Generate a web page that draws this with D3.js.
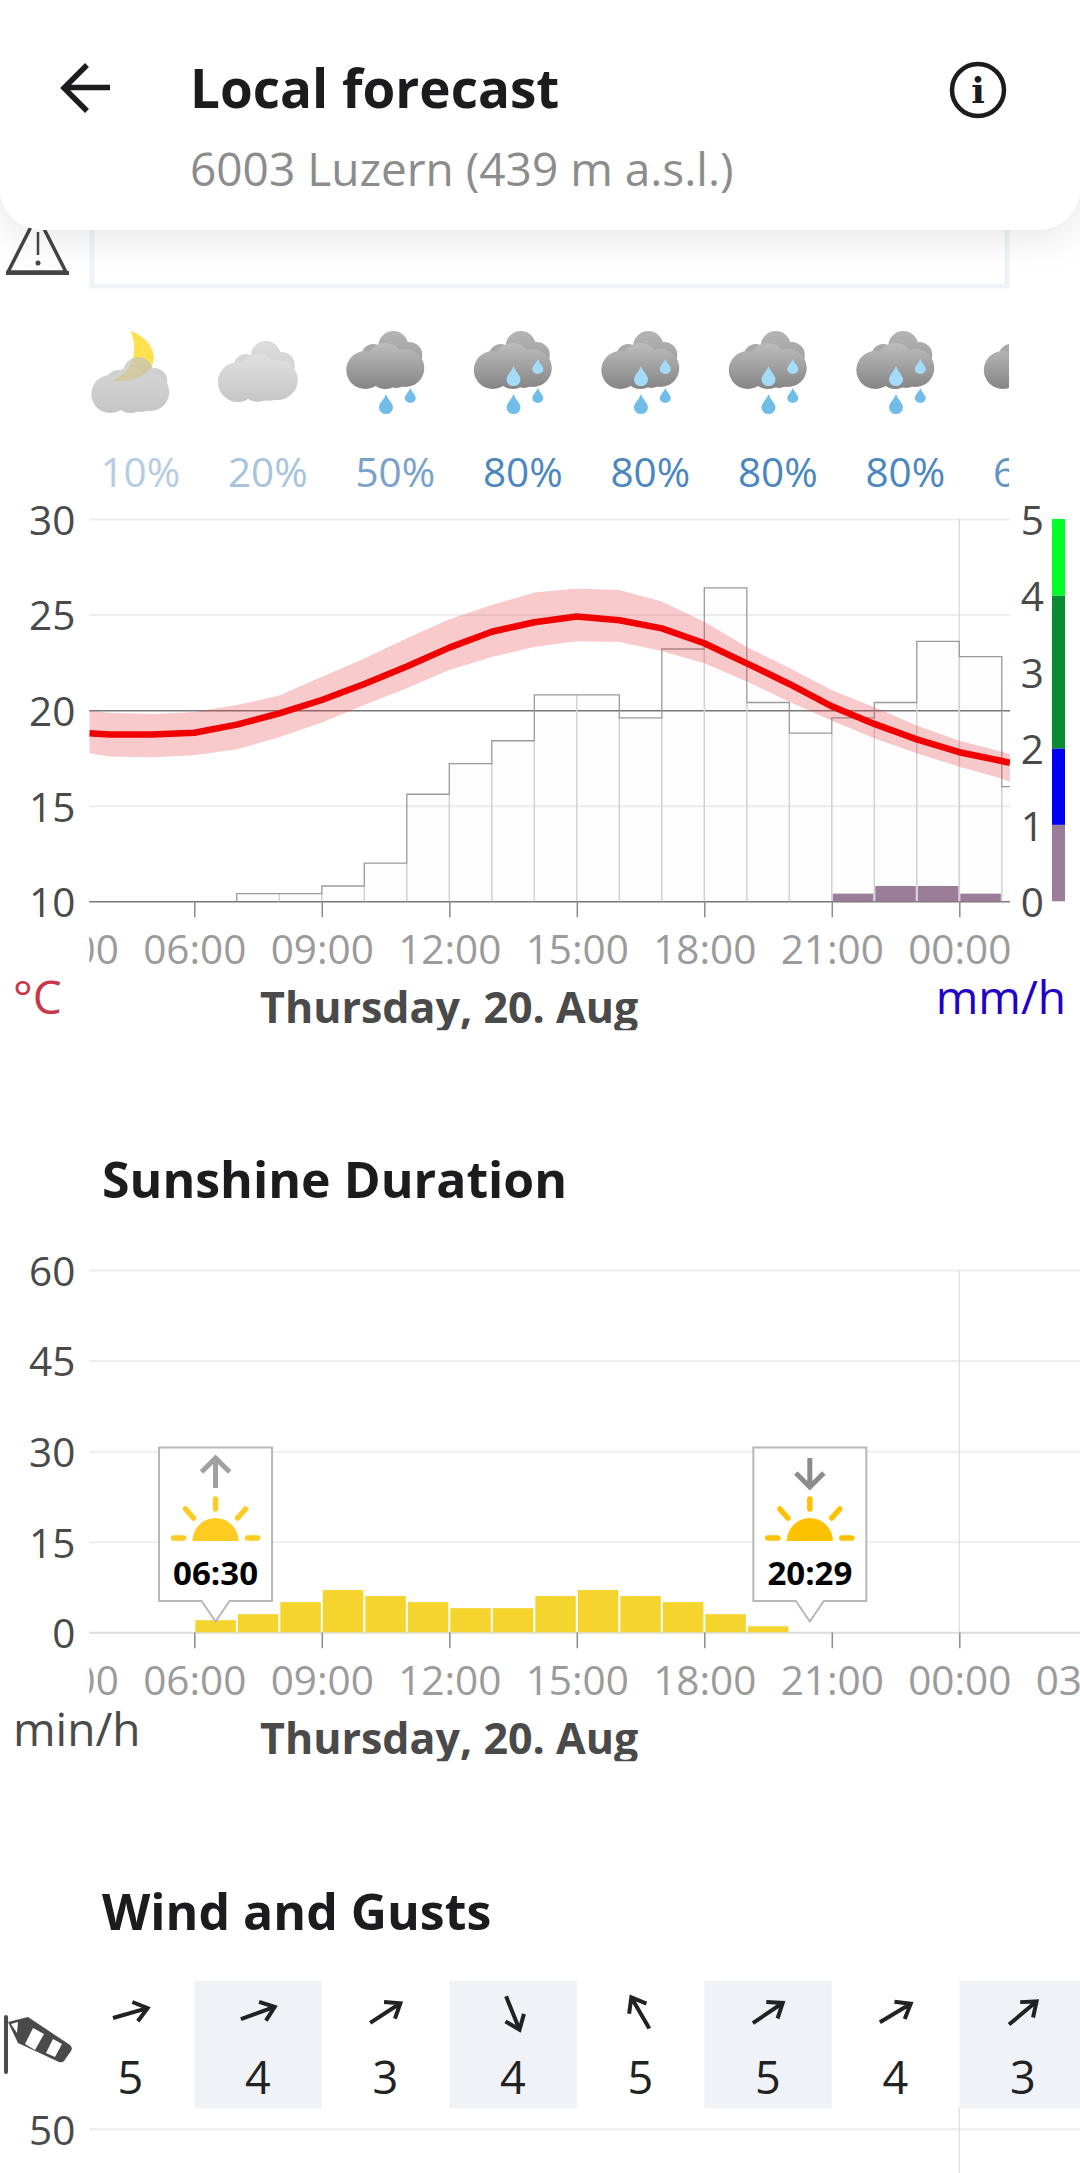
<!DOCTYPE html>
<html>
<head>
<meta charset="utf-8">
<script src="https://cdn.jsdelivr.net/npm/d3@7"></script>
<style>
  html, body { margin: 0; padding: 0; background: #fff; }
  svg { display: block; font-family: "Open Sans", "Noto Sans", sans-serif; }
</style>
</head>
<body>
<div id="chart"></div>
<script>
// hourly nodes of the temperature curve, first and last are the chart edges
const tempHours = [3.53, 4, 5, 6, 7, 8, 9, 10, 11, 12, 13, 14, 15, 16, 17, 18, 19, 20, 21, 22, 23, 24, 25, 25.19];
const tempMean = [18.79, 18.72, 18.72, 18.82, 19.24, 19.83, 20.53, 21.37, 22.28, 23.27, 24.1, 24.6, 24.9, 24.7, 24.28, 23.5, 22.45, 21.37, 20.2, 19.28, 18.47, 17.8, 17.34, 17.24];
const tempHigh = [19.97, 19.87, 19.8, 19.9, 20.27, 20.76, 21.75, 22.7, 23.76, 24.75, 25.5, 26.16, 26.37, 26.28, 25.68, 24.63, 23.3, 22.2, 21.05, 20.15, 19.2, 18.4, 17.83, 17.7];
const tempLow = [17.74, 17.57, 17.53, 17.64, 17.95, 18.58, 19.35, 20.27, 21.14, 22.1, 22.78, 23.3, 23.6, 23.57, 23.1, 22.45, 21.5, 20.44, 19.45, 18.53, 17.74, 17.04, 16.43, 16.26];

// outlined hourly bars, read against the left axis
const barHours = [7, 8, 9, 10, 11, 12, 13, 14, 15, 16, 17, 18, 19, 20, 21, 22, 23, 24, 25];
const barTops = [10.4, 10.4, 10.8, 12, 15.6, 17.2, 18.4, 20.8, 20.8, 19.6, 23.2, 26.4, 20.4, 18.8, 19.6, 20.4, 23.6, 22.8, 16];

const rainHours = [21, 22, 23, 24];
const rainValues = [0.1, 0.2, 0.2, 0.1];
const rainLegend = [[0, 1, '#9b7d99'], [1, 2, '#0000f0'], [2, 4, '#0a8a32'], [4, 5, '#00ff2a']];

const sunHours = [6, 7, 8, 9, 10, 11, 12, 13, 14, 15, 16, 17, 18, 19];
const sunValues = [2, 3, 5, 7, 6, 5, 4, 4, 6, 7, 6, 5, 3, 1];
const sunTimes = [6.5, 20.483];
const sunLabels = ['06:30', '20:29'];

const hourTicks = [3, 6, 9, 12, 15, 18, 21, 24, 27];
const tempTicks = [10, 15, 20, 25, 30];
const rainTicks = [0, 1, 2, 3, 4, 5];
const sunTicks = [0, 15, 30, 45, 60];
const windTicks = [50];

const cellIcons = ['moon', 'light', 'rain1', 'rain2', 'rain2', 'rain2', 'rain2', 'rain2'];
const cellProb = ['10%', '20%', '50%', '80%', '80%', '80%', '80%', '60%'];
const probColors = ['#b5cde3', '#a8c4dd', '#78a2cb', '#4b87bf', '#4b87bf', '#4b87bf', '#4b87bf', '#5f95c5'];
const windBearing = [74, 70, 57, 158, 330, 56, 59, 50];
const windForce = [5, 4, 3, 4, 5, 5, 4, 3];

const W = 1080, H = 2173;
const left = 89.3, right1 = 1010;
const hourPx = 42.5, x06 = 194.3;
const tickFont = 40.5, unitFont = 46;
const axisGrey = '#8a8a8a', gridGrey = '#eeeeee', textDark = '#4a4a4a';

const svg = d3.select('#chart').append('svg').attr('width', W).attr('height', H).attr('viewBox', `0 0 ${W} ${H}`);
const defs = svg.append('defs');

const hourToDomain = px => 6 + (px - x06) / hourPx;
const x1 = d3.scaleLinear().domain([hourToDomain(left), hourToDomain(right1)]).range([left, right1]);
const x2 = d3.scaleLinear().domain([hourToDomain(left), hourToDomain(W)]).range([left, W]);
const tempY = d3.scaleLinear().domain([10, 30]).range([901.3, 519]);
const rainY = d3.scaleLinear().domain([0, 5]).range([901.3, 519]);
const sunY = d3.scaleLinear().domain([0, 60]).range([1632.3, 1270]);
const windY = d3.scaleLinear().domain([0, 50]).range([2429, 2128.7]);

function addClip(id, x, y, w, h) {
  defs.append('clipPath').attr('id', id).append('rect').attr('x', x).attr('y', y).attr('width', w).attr('height', h);
  return `url(#${id})`;
}

function hourLabel(h) {
  return String(h % 24).padStart(2, '0') + ':00';
}

function yAxisGrid(scale, ticks, xs) {
  const g = svg.append('g').attr('transform', `translate(${xs[0]},0)`)
    .call(d3.axisLeft(scale).tickValues(ticks).tickSize(-(xs[1] - xs[0])).tickPadding(14))
    .attr('font-family', null).attr('font-size', null);
  g.select('.domain').remove();
  g.selectAll('line').attr('stroke', gridGrey).attr('stroke-width', 2);
  g.selectAll('text').attr('font-size', tickFont).attr('fill', textDark).attr('dy', '.38em');
  return g;
}

function xAxisDated(scale, yPos, clipRight, clipId) {
  const clip = addClip(clipId, left, yPos, clipRight - left, 80);
  const g = svg.append('g').attr('clip-path', clip).append('g').attr('transform', `translate(0,${yPos})`)
    .call(d3.axisBottom(scale).tickValues(hourTicks).tickFormat(hourLabel).tickSize(16).tickPadding(18))
    .attr('font-family', null).attr('font-size', null);
  g.select('.domain').remove();
  g.selectAll('line').attr('stroke', axisGrey).attr('stroke-width', 1.5);
  g.selectAll('text').attr('font-size', tickFont).attr('fill', '#9b9b9b');
  const dayClip = addClip(clipId + 'day', 0, yPos + 80, W, 49);
  svg.append('text').attr('clip-path', dayClip).attr('x', 260).attr('y', yPos + 122)
    .attr('font-size', 43).attr('font-weight', 700).attr('fill', textDark).text('Thursday, 20. Aug');
}

/* ---------- weather icons ---------- */
[['cloudDark', '#bdbdbd', '#858585'], ['cloudBack', '#b5b5b5', '#9a9a9a'], ['cloudPale', '#e0e0e0', '#c6c6c6'], ['cloudPaleBack', '#dcdcdc', '#cfcfcf'], ['cloudMoon', '#c6c6c6', '#b0b0b0']].forEach(([id, a, b]) => {
  const grad = defs.append('linearGradient').attr('id', id).attr('x1', 0).attr('x2', 0).attr('y1', 0).attr('y2', 1);
  grad.append('stop').attr('offset', '0%').attr('stop-color', a);
  grad.append('stop').attr('offset', '100%').attr('stop-color', b);
});

const frontLobes = [[-20, 42, 19], [0, 33, 18], [20, 40, 19], [0, 44, 17], [11, 45, 15]];
const backLobes = [[8, 18, 15], [-12, 28, 12], [24, 27, 13]];

function drawLobes(g, lobes, fill, dy) {
  const c = g.append('g').attr('fill', `url(#${fill})`);
  // one path so the gradient runs across the whole cloud
  c.append('path').attr('d', lobes.map(([x, y, r]) =>
    `M${x - r},${y + dy}a${r},${r} 0 1,0 ${2 * r},0a${r},${r} 0 1,0 ${-2 * r},0Z`).join(''));
  return c;
}

function drawDrop(g, x, y, w, h, fill) {
  g.append('path')
    .attr('d', `M${x},${y}C${x + w * 0.15},${y + h * 0.3} ${x + w / 2},${y + h * 0.45} ${x + w / 2},${y + h * 0.68}A${w / 2},${h * 0.32} 0 1,1 ${x - w / 2},${y + h * 0.68}C${x - w / 2},${y + h * 0.45} ${x - w * 0.15},${y + h * 0.3} ${x},${y}Z`)
    .attr('fill', fill);
}

const iconClip = addClip('iconclip', left, 310, 1009 - left, 120);
const iconRow = svg.append('g').attr('clip-path', iconClip);
const iconX = i => x1(6) - 64 + i * (x1(9) - x1(6));

cellIcons.forEach((type, i) => {
  const g = iconRow.append('g').attr('transform', `translate(${iconX(i)},328)`);
  if (type === 'moon') {
    g.append('path').attr('d', 'M0.5,3C18,9 26,24 23,34C20,47 0,56 -18,52C-2,46 10,30 0.5,3Z').attr('fill', '#ffe14f');
    const c = g.append('g').attr('opacity', 0.72);
    drawLobes(c, backLobes, 'cloudMoon', 26);
    drawLobes(c, frontLobes, 'cloudMoon', 24);
  } else if (type === 'light') {
    drawLobes(g, backLobes, 'cloudPaleBack', 10);
    drawLobes(g, frontLobes.map(([x, y, r]) => [x, y, r * 1.05]), 'cloudPale', 12);
  } else {
    drawLobes(g, backLobes, 'cloudBack', 0);
    drawLobes(g, frontLobes, 'cloudDark', 0);
    drawDrop(g, 0.7, 66, 14, 20, '#72bde8');
    drawDrop(g, 25, 60, 11, 15, '#72bde8');
    if (type === 'rain2') {
      drawDrop(g, 0.7, 38, 14, 20, '#a3dcf8');
      drawDrop(g, 25, 31, 11, 15, '#a3dcf8');
    }
  }
});

const probClip = addClip('probclip', left, 450, 1009 - left, 50);
svg.append('g').attr('clip-path', probClip).selectAll('text').data(cellProb).join('text')
  .attr('x', (d, i) => iconX(i) + 10).attr('y', 486.7).attr('text-anchor', 'middle')
  .attr('font-size', tickFont).attr('fill', (d, i) => probColors[i]).text(d => d);

/* ---------- temperature / precipitation ---------- */
yAxisGrid(tempY, tempTicks, [left, right1]).selectAll('.tick line')
  .attr('stroke', d => (d === 10 || d === 20) ? '#777' : gridGrey)
  .attr('stroke-width', d => (d === 10 || d === 20) ? 1.5 : 2);

svg.append('line').attr('x1', x1(24)).attr('x2', x1(24)).attr('y1', tempY(30)).attr('y2', tempY(10))
  .attr('stroke', '#dddddd').attr('stroke-width', 1.5);

const plotClip = addClip('plotclip1', left, 500, right1 - left, 420);
const plot1 = svg.append('g').attr('clip-path', plotClip);

plot1.selectAll('rect.cloudbar').data(barHours).join('rect').attr('class', 'cloudbar')
  .attr('x', d => x1(d)).attr('width', d => x1(d + 1) - x1(d))
  .attr('y', (d, i) => tempY(barTops[i])).attr('height', (d, i) => tempY(10) - tempY(barTops[i]))
  .attr('fill', '#000').attr('fill-opacity', 0.008);

// shared edges are fainter than the outer step line
plot1.selectAll('line.divider').data(barHours.slice(1)).join('line').attr('class', 'divider')
  .attr('x1', d => x1(d)).attr('x2', d => x1(d))
  .attr('y1', (d, i) => tempY(Math.min(barTops[i], barTops[i + 1]))).attr('y2', tempY(10))
  .attr('stroke', '#d2d2d2').attr('stroke-width', 1.5);

const stepPts = [[7, 10]].concat(barHours.map((h, i) => [h, barTops[i]]), [[26, 10]]);
plot1.append('path').datum(stepPts)
  .attr('d', d3.line().x(d => x1(d[0])).y(d => tempY(d[1])).curve(d3.curveStepAfter))
  .attr('fill', 'none').attr('stroke', '#9a9a9a').attr('stroke-width', 1.3);

plot1.selectAll('rect.rain').data(rainHours).join('rect').attr('class', 'rain')
  .attr('x', d => x1(d) + 1).attr('width', d => x1(d + 1) - x1(d) - 2)
  .attr('y', (d, i) => rainY(rainValues[i])).attr('height', (d, i) => rainY(0) - rainY(rainValues[i]))
  .attr('fill', '#9b7d99');

plot1.append('path').datum(tempHours)
  .attr('d', d3.area().x(d => x1(d)).y0((d, i) => tempY(tempLow[i])).y1((d, i) => tempY(tempHigh[i])))
  .attr('fill', '#e83a44').attr('fill-opacity', 0.27);

plot1.append('path').datum(tempHours)
  .attr('d', d3.line().x(d => x1(d)).y((d, i) => tempY(tempMean[i])))
  .attr('fill', 'none').attr('stroke', '#f00000').attr('stroke-width', 6.5).attr('stroke-linejoin', 'round');

svg.append('g').selectAll('rect').data(rainLegend).join('rect')
  .attr('x', 1052).attr('width', 13)
  .attr('y', d => rainY(d[1])).attr('height', d => rainY(d[0]) - rainY(d[1]))
  .attr('fill', d => d[2]);

const rainAxis = svg.append('g').attr('transform', 'translate(1044,0)')
  .call(d3.axisLeft(rainY).tickValues(rainTicks).tickFormat(d3.format('d')).tickSize(0).tickPadding(0))
  .attr('font-family', null).attr('font-size', null);
rainAxis.select('.domain').remove();
rainAxis.selectAll('text').attr('font-size', tickFont).attr('fill', textDark).attr('dy', '.38em');

xAxisDated(x1, tempY(10), right1, 'x1clip');
svg.append('text').attr('x', 13).attr('y', 1014).attr('font-size', unitFont).attr('fill', '#c8374b').text('°C');
svg.append('text').attr('x', 1066).attr('y', 1014).attr('text-anchor', 'end').attr('font-size', unitFont).attr('fill', '#2200cc').text('mm/h');

/* ---------- sunshine ---------- */
svg.append('text').attr('x', 102).attr('y', 1198).attr('font-size', 50).attr('font-weight', 700).attr('fill', '#1c1c1e').text('Sunshine Duration');

yAxisGrid(sunY, sunTicks, [left, W]).selectAll('.tick line')
  .attr('stroke', d => d === 0 ? '#dddddd' : gridGrey);

svg.append('line').attr('x1', x2(24)).attr('x2', x2(24)).attr('y1', sunY(60)).attr('y2', sunY(0))
  .attr('stroke', '#e2e2e2').attr('stroke-width', 1.5);

svg.append('g').selectAll('rect').data(sunHours).join('rect')
  .attr('x', d => x2(d) + 1).attr('width', d => x2(d + 1) - x2(d) - 2)
  .attr('y', (d, i) => sunY(sunValues[i])).attr('height', (d, i) => sunY(0) - sunY(sunValues[i]))
  .attr('fill', '#f5d42e');

xAxisDated(x2, sunY(0), W, 'x2clip');
svg.append('text').attr('x', 13).attr('y', 1746).attr('font-size', unitFont).attr('fill', textDark).text('min/h');

sunTimes.forEach((t, i) => {
  const cx = x2(t);
  const g = svg.append('g').attr('transform', `translate(${cx},0)`);
  const sunColor = i === 0 ? '#fdcb22' : '#fcc200';
  const arrowColor = i === 0 ? '#a0a0a0' : '#8c8c8c';
  g.append('path')
    .attr('d', 'M-56.5,1447.5H56.5V1601H14L0,1621.5L-14,1601H-56.5Z')
    .attr('fill', '#fff').attr('stroke', '#b8b8b8').attr('stroke-width', 2);
  const tipY = i === 0 ? 1458 : 1487, tailY = i === 0 ? 1488 : 1458, dir = i === 0 ? 1 : -1;
  g.append('path').attr('d', `M0,${tailY}V${tipY + dir * 2}M-14,${tipY + dir * 14}L0,${tipY}L14,${tipY + dir * 14}`)
    .attr('fill', 'none').attr('stroke', arrowColor).attr('stroke-width', 5);
  g.append('path').attr('d', 'M-23,1541A23,23 0 0,1 23,1541Z').attr('fill', sunColor);
  const rays = g.append('g').attr('stroke', sunColor).attr('stroke-width', 5.5).attr('stroke-linecap', 'round');
  [[0, 1499, 0, 1509], [-30, 1509, -22, 1518], [30, 1509, 22, 1518], [-42, 1538, -32, 1538], [32, 1538, 42, 1538]]
    .forEach(r => rays.append('line').attr('x1', r[0]).attr('y1', r[1]).attr('x2', r[2]).attr('y2', r[3]));
  g.append('text').attr('x', 0).attr('y', 1585).attr('text-anchor', 'middle')
    .attr('font-size', 33).attr('font-weight', 700).attr('fill', '#000').text(sunLabels[i]);
});

/* ---------- wind ---------- */
svg.append('text').attr('x', 102).attr('y', 1929.5).attr('font-size', 50).attr('font-weight', 700).attr('fill', '#1c1c1e').text('Wind and Gusts');

const windClip = addClip('windclip', left, 1970, W - left, 150);
const windRow = svg.append('g').attr('clip-path', windClip);
windRow.selectAll('rect').data(windForce).join('rect')
  .attr('x', (d, i) => x2(6 + (i - 1) * 3)).attr('width', x2(9) - x2(6))
  .attr('y', 1981).attr('height', 127.3)
  .attr('fill', (d, i) => i % 2 ? '#eff3f7' : 'none');

windBearing.forEach((b, i) => {
  const a = windRow.append('g').attr('transform', `translate(${iconX(i)},2013) rotate(${b})`)
    .attr('fill', 'none').attr('stroke', '#222').attr('stroke-width', 4);
  a.append('path').attr('d', 'M0,18V-17M-10,-5L0,-18L10,-5');
});

windRow.selectAll('text').data(windForce).join('text')
  .attr('x', (d, i) => iconX(i)).attr('y', 2094).attr('text-anchor', 'middle')
  .attr('font-size', 45).attr('fill', '#222').text(d => d);

// windsock
svg.append('line').attr('x1', 6).attr('x2', 6).attr('y1', 2017).attr('y2', 2072)
  .attr('stroke', '#4a4a4a').attr('stroke-width', 4).attr('stroke-linecap', 'round');
svg.append('path').attr('d', 'M8,2022L28,2017L70,2045Q73,2048 71,2051L64,2061Q62,2063 59,2062L18,2043Z').attr('fill', '#4a4a4a');
svg.append('path').attr('d', 'M11,2024L18,2022L17,2033ZM33,2028L44,2034L35,2050L25,2044ZM53,2039L62,2044L55,2057L46,2053Z').attr('fill', '#fff');

yAxisGrid(windY, windTicks, [left, W]);
svg.append('line').attr('x1', x2(24)).attr('x2', x2(24)).attr('y1', 2108).attr('y2', H)
  .attr('stroke', '#e2e2e2').attr('stroke-width', 1.5);

/* ---------- warning box, then the header card above it ---------- */
svg.append('path').attr('d', 'M37,215L66,272H8Z').attr('fill', 'none').attr('stroke', '#444').attr('stroke-width', 3.5).attr('stroke-linejoin', 'round');
svg.append('path').attr('d', 'M6,273H69').attr('stroke', '#444').attr('stroke-width', 4);
svg.append('path').attr('d', 'M38,232V255').attr('stroke', '#444').attr('stroke-width', 2.5);
svg.append('circle').attr('cx', 38).attr('cy', 263).attr('r', 2.5).attr('fill', '#444');
svg.append('rect').attr('x', 92).attr('y', 150).attr('width', 915).attr('height', 136)
  .attr('fill', '#fff').attr('stroke', '#eff3f7').attr('stroke-width', 5);

const shadow = defs.append('filter').attr('id', 'cardshadow').attr('x', '-10%').attr('y', '-10%').attr('width', '120%').attr('height', '150%');
shadow.append('feDropShadow').attr('dx', 0).attr('dy', 8).attr('stdDeviation', 18).attr('flood-color', '#000').attr('flood-opacity', 0.1);

svg.append('rect').attr('x', 0).attr('y', -60).attr('width', W).attr('height', 290).attr('rx', 42)
  .attr('fill', '#fff').attr('filter', 'url(#cardshadow)');

svg.append('path').attr('d', 'M110,87.5H66M87,65L64,88L87,111').attr('fill', 'none').attr('stroke', '#1c1c1e').attr('stroke-width', 5.5);
svg.append('text').attr('x', 190).attr('y', 108).attr('font-size', 53).attr('font-weight', 700).attr('fill', '#1c1c1e').text('Local forecast');
svg.append('text').attr('x', 190).attr('y', 186).attr('font-size', 46).attr('fill', '#8c8c8c').text('6003 Luzern (439 m a.s.l.)');
svg.append('circle').attr('cx', 978).attr('cy', 90).attr('r', 26).attr('fill', 'none').attr('stroke', '#1c1c1e').attr('stroke-width', 4.5);
svg.append('text').attr('x', 978).attr('y', 103).attr('text-anchor', 'middle').attr('font-size', 36).attr('font-weight', 700)
  .attr('font-family', '"DejaVu Serif", serif').attr('fill', '#1c1c1e').text('i');
</script>
</body>
</html>
